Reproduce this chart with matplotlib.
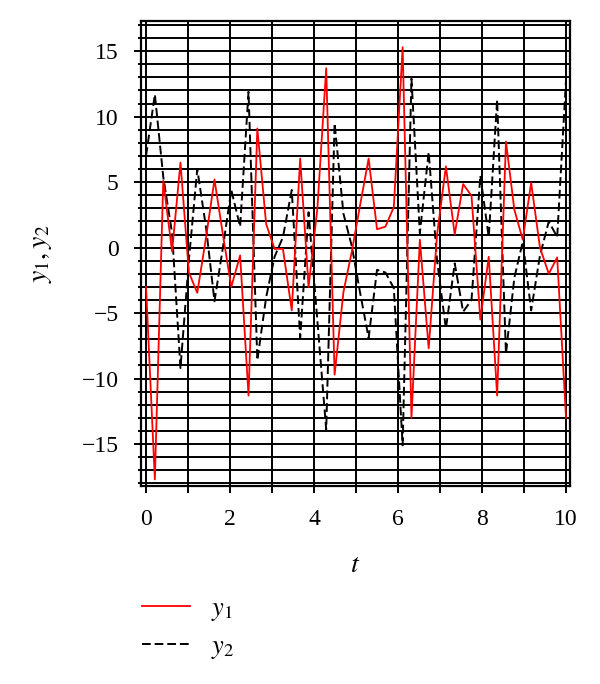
import matplotlib
matplotlib.use("Agg")
import matplotlib.pyplot as plt
import numpy as np

plt.rcParams['font.family'] = ['Liberation Serif', 'DejaVu Serif']
plt.rcParams['mathtext.fontset'] = 'stix'

# values (adaptive sample points)
t = [0.0, 0.21, 0.41, 0.62, 0.82, 1.02, 1.22, 1.43, 1.63, 1.83,
     2.03, 2.24, 2.44, 2.65, 2.86, 3.06, 3.26, 3.47, 3.67, 3.87,
     4.08, 4.29, 4.49, 4.70, 4.90, 5.10, 5.30, 5.50, 5.70, 5.90,
     6.11, 6.32, 6.52, 6.73, 6.93, 7.14, 7.35, 7.55, 7.75, 7.96,
     8.16, 8.36, 8.57, 8.77, 8.97, 9.17, 9.38, 9.59, 9.79, 10.0]
y1 = [-3.0, -17.7, 5.1, -0.3, 6.5, -1.9, -3.45, 0.8, 5.2, 1.0,
      -3.0, -0.6, -11.3, 9.1, 1.8, -0.1, -0.1, -4.8, 6.8, -3.0,
      3.0, 13.7, -9.7, -3.4, -0.3, 3.3, 6.8, 1.4, 1.6, 3.1,
      15.3, -13.0, 0.6, -7.7, 1.0, 6.2, 1.0, 4.85, 3.95, -5.5,
      -0.7, -11.3, 8.1, 2.9, 0.6, 4.95, 0.0, -2.0, -0.75, -13.0]
y2 = [7.0, 11.7, 5.4, 1.1, -9.2, -0.95, 6.0, 1.5, -4.1, 0.0,
      4.4, 1.6, 11.9, -8.6, -3.8, -0.7, 0.8, 4.4, -6.9, 2.7,
      -5.6, -13.9, 9.5, 2.6, 0.1, -3.5, -6.9, -1.7, -1.9, -3.1,
      -15.1, 12.9, 1.1, 7.3, -1.0, -6.2, -1.2, -4.9, -4.0, 5.5,
      0.8, 11.3, -8.1, -2.3, 0.45, -4.8, -0.6, 2.0, 0.8, 12.8]

xticks = [0, 2, 4, 6, 8, 10]
yticks = [-15, -10, -5, 0, 5, 10, 15]

fig = plt.figure(figsize=(6.0, 6.84), dpi=100)
ax = fig.add_axes([0.235, 0.290, 0.715, 0.679])

# grid at every unit
for gx in range(0, 11):
    ax.axvline(gx, color='black', lw=1.4, zorder=1)
for gy in range(-18, 18):
    ax.axhline(gy, color='black', lw=1.4, zorder=1)

l1, = ax.plot(t, y1, color='#ff0000', lw=1.3, zorder=3)
l2, = ax.plot(t, y2, color='black', lw=1.4, ls=(0, (4.5, 2)), zorder=2)

ax.set_xlim(-0.12, 10.095)
ax.set_ylim(-18.18, 17.29)

ax.set_xticks(xticks)
ax.set_xticks(range(0, 11), minor=True)
ax.set_yticks(yticks)
ax.set_yticks(range(-18, 18), minor=True)
ax.set_yticklabels([str(v).replace('-', '\u2212') for v in yticks])
ax.tick_params(axis='both', which='major', labelsize=17, width=1.4, color='black')
ax.tick_params(axis='x', which='both', length=5, width=1.4, pad=12)
ax.tick_params(axis='y', which='major', length=5, pad=11)
ax.tick_params(axis='y', which='minor', length=2.5, width=1.4)

for s in ax.spines.values():
    s.set_linewidth(1.6)

ax.set_xlabel('$t$', fontsize=20, va='center')
ax.xaxis.set_label_coords(0.5, -0.171)
ax.set_ylabel('$y_1, y_2$', fontsize=20, va='center')
ax.yaxis.set_label_coords(-0.231, 0.5)

fig.legend([l1, l2], ['$y_1$', '$y_2$'], loc='upper left',
           bbox_to_anchor=(0.2367, 0.128), bbox_transform=fig.transFigure,
           frameon=False, fontsize=19, borderpad=0, borderaxespad=0,
           handlelength=1.8, handletextpad=0.8, labelspacing=0.45)

fig.savefig('out.png', dpi=100)
